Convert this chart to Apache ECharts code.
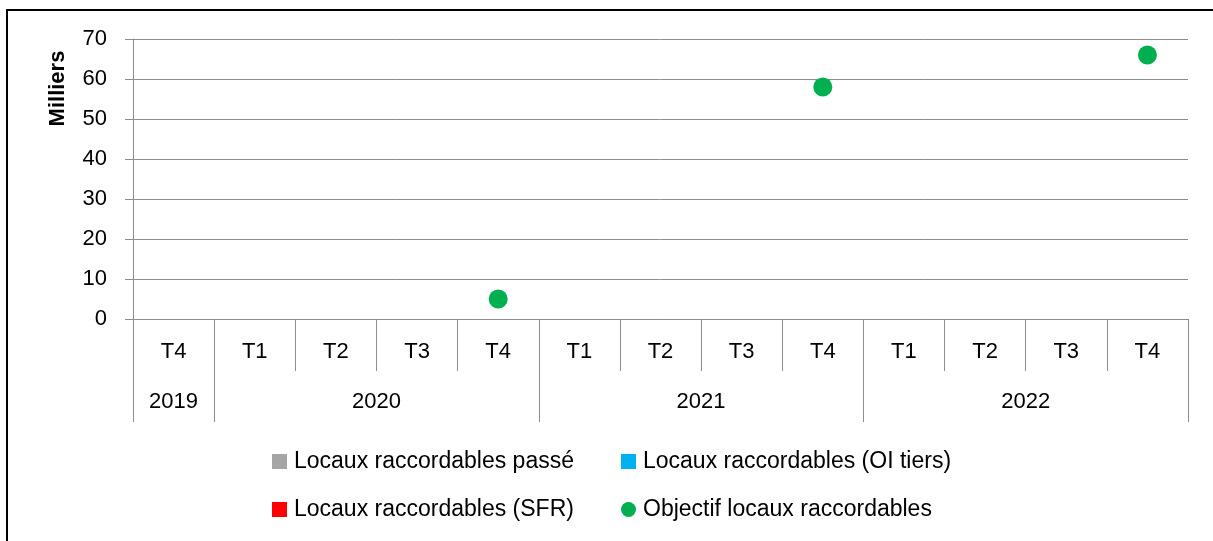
<!DOCTYPE html>
<html>
<head>
<meta charset="utf-8">
<script src="https://cdn.jsdelivr.net/npm/echarts@6/dist/echarts.min.js"></script>
<style>
html,body{margin:0;padding:0;background:#fff;}
#c{width:1213px;height:541px;}
</style>
</head>
<body>
<div id="c"></div>
<script>
// ---- data ----
const quarters = ['T4','T1','T2','T3','T4','T1','T2','T3','T4','T1','T2','T3','T4'];
const yearLabels = ['2019','2020','2021','2022'];
const yearSpans = [1,4,4,4];
const yTicks = [0,10,20,30,40,50,60,70];
const seriesNames = ['Locaux raccordables passé','Locaux raccordables (OI tiers)','Locaux raccordables (SFR)','Objectif locaux raccordables'];
const passeValues = [null,null,null,null,null,null,null,null,null,null,null,null,null];
const oiTiersValues = [null,null,null,null,null,null,null,null,null,null,null,null,null];
const sfrValues = [null,null,null,null,null,null,null,null,null,null,null,null,null];
const objectifValues = [null,null,null,null,5,null,null,null,58,null,null,null,66];
const yAxisTitle = 'Milliers';

// derived positions for the year row (category units)
const yearBounds = [0];
yearSpans.forEach(s => yearBounds.push(yearBounds[yearBounds.length-1] + s));
const yearCenters = yearSpans.map((s,i) => yearBounds[i] + s/2);

const FONT = '"Liberation Sans", Arial, sans-serif';
const AX = '#8e8e8e';
const FS = 22;

const legendText = {fontSize:23, lineHeight:22, color:'#000', fontFamily:FONT, padding:[0,0,0,2]};

const chart = echarts.init(document.getElementById('c'), null, {renderer:'canvas'});
chart.setOption({
  animation:false,
  textStyle:{fontFamily:FONT},
  grid:{left:133, right:25, top:39, bottom:222, containLabel:false},
  graphic:[
    {type:'rect', shape:{x:7,y:10,width:1400,height:1000}, style:{fill:'none', stroke:'#000', lineWidth:2}, silent:true},
    {type:'text', x:58, y:88.5, rotation:Math.PI/2,
     style:{text:yAxisTitle, font:'bold 22px ' + FONT, fill:'#000', align:'center', verticalAlign:'middle'}}
  ],
  legend:[
    {orient:'vertical', left:272, top:450, padding:0, itemWidth:15, itemHeight:15, itemGap:25,
     textStyle:legendText,
     data:[{name:seriesNames[0], icon:'rect'},{name:seriesNames[2], icon:'rect'}]},
    {orient:'vertical', left:621, top:450, padding:0, itemWidth:15, itemHeight:15, itemGap:25,
     textStyle:legendText,
     data:[{name:seriesNames[1], icon:'rect'},{name:seriesNames[3], icon:'circle'}]}
  ],
  xAxis:[
    {type:'category', data:quarters, boundaryGap:true,
     axisLine:{show:true, lineStyle:{color:AX, width:1}},
     axisTick:{show:true, interval:0, length:52, lineStyle:{color:AX, width:1}},
     axisLabel:{interval:0, margin:22, fontSize:FS, lineHeight:22, color:'#000', fontFamily:FONT},
     splitLine:{show:false}},
    {type:'value', position:'bottom', min:0, max:yearBounds[yearBounds.length-1],
     axisLine:{show:false},
     axisTick:{show:true, customValues:yearBounds, length:103, lineStyle:{color:AX, width:1}},
     axisLabel:{show:true, customValues:yearCenters, margin:72, fontSize:FS, lineHeight:22, color:'#000', fontFamily:FONT,
       formatter:(v)=>{const i=yearCenters.indexOf(v); return i>=0?yearLabels[i]:'';}},
     splitLine:{show:false}}
  ],
  yAxis:{type:'value', min:yTicks[0], max:yTicks[yTicks.length-1], interval:10,
    axisLine:{show:true, lineStyle:{color:AX, width:1}},
    axisTick:{show:true, length:8, lineStyle:{color:AX, width:1}},
    axisLabel:{margin:26, fontSize:FS, color:'#000', fontFamily:FONT},
    splitLine:{show:true, lineStyle:{color:AX, width:1}}},
  series:[
    {name:seriesNames[0], type:'bar', stack:'a', data:passeValues, itemStyle:{color:'#a5a5a5'}},
    {name:seriesNames[1], type:'bar', stack:'a', data:oiTiersValues, itemStyle:{color:'#00b0f0'}},
    {name:seriesNames[2], type:'bar', stack:'a', data:sfrValues, itemStyle:{color:'#ff0000'}},
    {name:seriesNames[3], type:'scatter', data:objectifValues, symbol:'circle', symbolSize:19, itemStyle:{color:'#00b050', opacity:1}}
  ]
});
</script>
</body>
</html>
